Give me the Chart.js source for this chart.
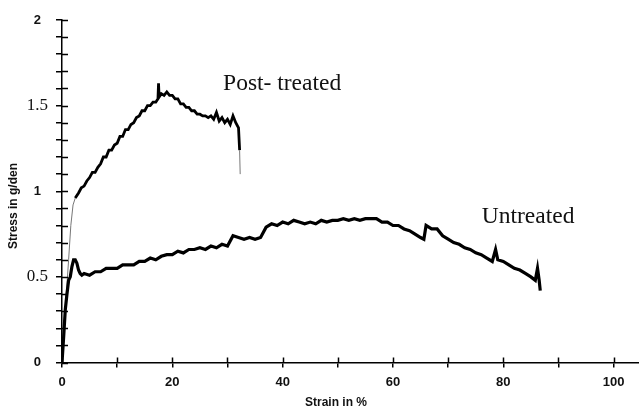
<!DOCTYPE html>
<html>
<head>
<meta charset="utf-8">
<script src="https://cdn.jsdelivr.net/npm/chart.js@4.4.1/dist/chart.umd.min.js"></script>
<style>
  html, body { margin: 0; padding: 0; background: #fff; }
  #wrap { width: 639px; height: 411px; position: relative; }
</style>
</head>
<body>
<div id="wrap"><canvas id="stressChart"></canvas></div>
<script>
// post-treated fibre: strain (%) and stress (g/den)
const postStrain = [0, 0.4, 0.8, 1.2, 1.6, 2.0, 2.4,
  3.0, 3.5, 4.0, 4.5, 5.0, 5.5, 6.0, 6.5, 7.0, 7.5, 8.0, 8.5, 9.0, 9.5, 10.0,
  10.5, 11.0, 11.5, 12.0, 12.5, 13.0, 13.5, 14.0, 14.5, 15.0, 15.5, 16.0, 16.5, 17.0,
  17.4, 17.5, 17.6,
  18.0, 18.5, 19.0, 19.5, 20.0, 20.5, 21.0, 21.5, 22.0, 22.5, 23.0, 23.5, 24.0, 24.5,
  25.0, 25.5, 26.0, 26.5, 27.0, 27.5, 28.0, 28.5, 29.0, 29.5, 30.0, 30.5, 31.0, 31.5, 32.0,
  32.2, 32.3];
const postStress = [0, 0.20, 0.41, 0.60, 0.80, 0.92, 0.96,
  0.99, 1.02, 1.03, 1.06, 1.08, 1.11, 1.11, 1.14, 1.16, 1.20, 1.20, 1.24, 1.24, 1.27, 1.28,
  1.32, 1.32, 1.36, 1.36, 1.39, 1.40, 1.43, 1.44, 1.47, 1.47, 1.50, 1.50, 1.52, 1.52,
  1.54, 1.63, 1.55,
  1.57, 1.56, 1.58, 1.56, 1.56, 1.54, 1.54, 1.51, 1.51, 1.49, 1.49, 1.47, 1.47, 1.45,
  1.45, 1.44, 1.44, 1.43, 1.44, 1.42, 1.46, 1.41, 1.43, 1.40, 1.42, 1.39, 1.44, 1.40, 1.37,
  1.24, 1.10];

// untreated fibre
const rawStrain = [0, 0.3, 0.6, 0.9, 1.2, 1.5, 1.8, 2.1, 2.4, 2.7, 3.0, 3.3, 3.6,
  4, 5, 6, 7, 8, 9, 10, 11, 12, 13, 14, 15, 16, 17, 18, 19, 20, 21, 22, 23, 24,
  25, 26, 27, 28, 29, 30, 31, 32, 33, 34, 35, 36, 37, 38, 39, 40, 41, 42, 43, 44,
  45, 46, 47, 48, 49, 50, 51, 52, 53, 54, 55, 56, 57, 58, 59, 60, 61, 62, 63, 64, 65,
  65.6, 66, 67, 68, 69, 70, 71, 72, 73, 74, 75, 76, 77, 78,
  78.6, 79, 80, 81, 82, 83, 84, 85,
  85.8, 86.2, 86.5, 86.7];
const rawStress = [0, 0.15, 0.31, 0.40, 0.48, 0.50, 0.56, 0.60, 0.60, 0.58, 0.54, 0.52, 0.51,
  0.52, 0.51, 0.53, 0.53, 0.55, 0.55, 0.55, 0.57, 0.57, 0.57, 0.59, 0.59, 0.61, 0.60, 0.62, 0.63, 0.63, 0.65, 0.64, 0.66, 0.66,
  0.67, 0.66, 0.68, 0.67, 0.69, 0.68, 0.74, 0.73, 0.72, 0.73, 0.72, 0.73, 0.79, 0.81, 0.80, 0.82, 0.81, 0.83, 0.82, 0.81,
  0.82, 0.81, 0.83, 0.82, 0.83, 0.83, 0.84, 0.83, 0.84, 0.83, 0.84, 0.84, 0.84, 0.82, 0.82, 0.80, 0.80, 0.78, 0.77, 0.75, 0.73,
  0.72, 0.80, 0.78, 0.78, 0.74, 0.72, 0.70, 0.69, 0.67, 0.66, 0.64, 0.63, 0.61, 0.59,
  0.66, 0.60, 0.59, 0.57, 0.55, 0.54, 0.52, 0.50,
  0.48, 0.55, 0.48, 0.42];

const xLabelValues = [0, 20, 40, 60, 80, 100];
const yLabelValues = [0, 0.5, 1, 1.5, 2];

// curve captions, anchored in data units (left edge, baseline)
const curveLabels = [
  { text: "Post- treated", x: 29.2, y: 1.59 },
  { text: "Untreated", x: 76.1, y: 0.814 },
];

const SERIF = "'Liberation Serif', 'Times New Roman', serif";
const SANS = "'Liberation Sans', Arial, sans-serif";

function toPoints(xs, ys) {
  return xs.map((x, i) => ({ x, y: ys[i] }));
}

function isLabelled(list, v) {
  return list.some((l) => Math.abs(l - v) < 1e-6);
}

// tick marks cross the axis, so draw the inner half plus captions and axis titles
const extras = {
  id: "extras",
  afterDraw(chart) {
    const { ctx, chartArea, scales } = chart;
    ctx.save();
    ctx.strokeStyle = "#000";
    ctx.lineWidth = 1.5;
    ctx.beginPath();
    scales.x.ticks.forEach((t) => {
      const px = Math.round(scales.x.getPixelForValue(t.value)) + 0.5;
      ctx.moveTo(px, chartArea.bottom);
      ctx.lineTo(px, chartArea.bottom - 5);
    });
    scales.y.ticks.forEach((t) => {
      const py = Math.round(scales.y.getPixelForValue(t.value)) + 0.5;
      ctx.moveTo(chartArea.left, py);
      ctx.lineTo(chartArea.left + 6, py);
    });
    ctx.stroke();

    ctx.fillStyle = "#111";
    ctx.font = `23.5px ${SERIF}`;
    ctx.textAlign = "left";
    ctx.textBaseline = "alphabetic";
    curveLabels.forEach((c) => {
      ctx.fillText(c.text, scales.x.getPixelForValue(c.x), scales.y.getPixelForValue(c.y));
    });

    ctx.font = `bold 12px ${SANS}`;
    ctx.textAlign = "center";
    ctx.textBaseline = "middle";
    ctx.fillText("Strain in %", 336, 403);
    ctx.translate(13.5, 206);
    ctx.rotate(-Math.PI / 2);
    ctx.fillText("Stress in g/den", 0, 0);
    ctx.restore();
  },
};

const ctx = document.getElementById("stressChart").getContext("2d");

new Chart(ctx, {
  type: "line",
  data: {
    datasets: [
      {
        label: "Untreated",
        data: toPoints(rawStrain, rawStress),
        borderColor: "#000",
        borderWidth: 3.2,
        pointRadius: 0,
        tension: 0,
      },
      {
        label: "Post- treated",
        data: toPoints(postStrain, postStress),
        borderColor: "#000",
        borderWidth: 2.8,
        pointRadius: 0,
        tension: 0,
        segment: {
          borderColor: (c) => (c.p1.parsed.x <= 2.4 || c.p0.parsed.x >= 32.2 ? "#777" : undefined),
          borderWidth: (c) => (c.p1.parsed.x <= 2.4 || c.p0.parsed.x >= 32.2 ? 1 : undefined),
        },
      },
    ],
  },
  options: {
    responsive: true,
    maintainAspectRatio: false,
    animation: false,
    layout: { padding: { top: 20, right: 0, bottom: 0, left: 0 } },
    plugins: {
      legend: { display: false },
      tooltip: { enabled: false },
    },
    scales: {
      x: {
        type: "linear",
        min: 0,
        max: 104.6,
        afterFit: (scale) => {
          scale.height = 48.5;
        },
        border: { color: "#000", width: 1.5 },
        grid: { drawOnChartArea: false, color: "#000", lineWidth: 1.5, tickLength: 5 },
        ticks: {
          stepSize: 10,
          includeBounds: false,
          autoSkip: false,
          maxRotation: 0,
          padding: 7,
          color: "#111",
          font: { family: SANS, size: 13, weight: "bold" },
          callback: (v) => (isLabelled(xLabelValues, v) ? String(v) : ""),
        },
      },
      y: {
        min: 0,
        max: 2,
        afterFit: (scale) => {
          scale.width = 62;
        },
        border: { color: "#000", width: 1.5 },
        grid: { drawOnChartArea: false, color: "#000", lineWidth: 1.5, tickLength: 6 },
        ticks: {
          stepSize: 0.1,
          autoSkip: false,
          crossAlign: "center",
          padding: 8,
          color: "#111",
          font: (c) => {
            const v = c.tick ? c.tick.value : 0;
            return Number.isInteger(v)
              ? { family: SANS, size: 13, weight: "bold" }
              : { family: SERIF, size: 17 };
          },
          callback: (v) => (isLabelled(yLabelValues, v) ? String(v) : ""),
        },
      },
    },
  },
  plugins: [extras],
});
</script>
</body>
</html>
